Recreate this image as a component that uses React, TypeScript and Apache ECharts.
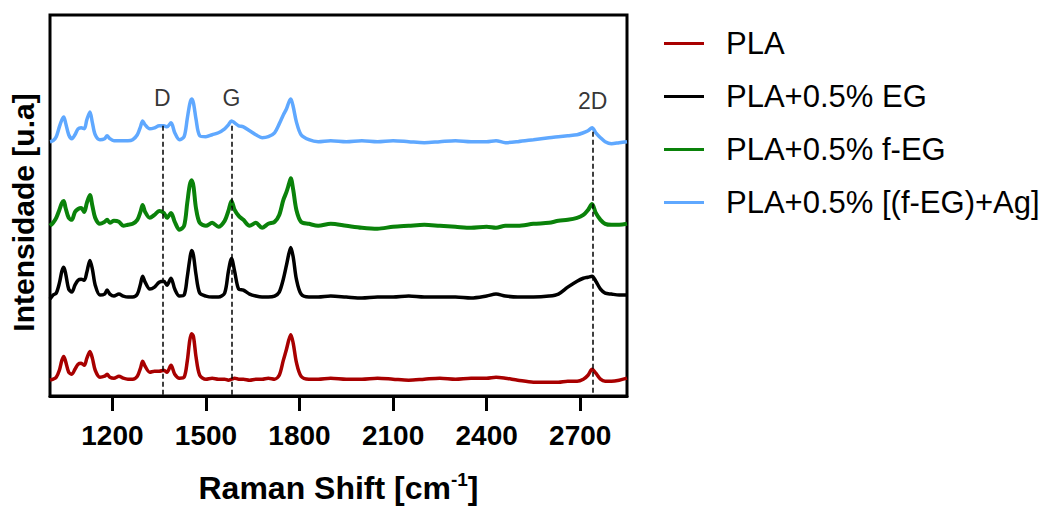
import React, { useEffect, useRef } from "react";
import * as echarts from "echarts";

const ramanShift = [
  1000, 1010, 1020, 1030, 1038, 1044, 1050, 1060, 1070, 1080,
  1090, 1100, 1110, 1118, 1128, 1136, 1145, 1160, 1175, 1183,
  1192, 1205, 1221, 1235, 1250, 1265, 1280, 1290, 1297, 1305,
  1320, 1335, 1350, 1365, 1375, 1388, 1400, 1415, 1430, 1440,
  1448, 1454, 1460, 1468, 1480, 1500, 1520, 1540, 1560, 1572,
  1582, 1592, 1605, 1620, 1640, 1660, 1680, 1700, 1720, 1735,
  1748, 1758, 1766, 1772, 1780, 1790, 1805, 1830, 1860, 1900,
  1950, 2000, 2050, 2100, 2150, 2200, 2250, 2300, 2350, 2400,
  2430, 2460, 2500, 2550, 2600, 2630, 2660, 2690, 2710, 2725,
  2738, 2750, 2765, 2780, 2800, 2825, 2850,
];

const pla = [
  16, 17, 19, 26, 36, 40, 35, 24, 22, 27,
  32, 33, 31, 38, 45, 38, 26, 19, 20, 22,
  19, 18, 20, 18, 17, 17, 20, 28, 35, 30,
  24, 25, 25, 26, 24, 31, 22, 18, 19, 35,
  56, 63, 60, 40, 21, 17, 18, 17, 17, 16,
  17, 18, 17, 17, 16, 17, 17, 18, 17, 21,
  36, 47, 57, 62, 53, 34, 20, 17, 17, 18,
  17, 17, 18, 17, 16, 17, 18, 17, 18, 18,
  19, 18, 16, 14, 14, 14, 15, 15, 17, 21,
  27, 23, 17, 15, 15, 16, 18,
];

const plaEG = [
  98, 102, 104, 114, 126, 130, 124, 108, 105, 112,
  117, 118, 117, 125, 137, 128, 112, 102, 103, 107,
  103, 101, 103, 101, 100, 100, 103, 113, 121, 115,
  108, 110, 115, 116, 112, 119, 108, 101, 102, 120,
  138, 147, 142, 123, 104, 101, 100, 100, 104, 126,
  139, 126, 108, 107, 103, 101, 100, 100, 101, 105,
  118, 132, 144, 150, 140, 118, 103, 100, 100, 101,
  100, 99, 100, 100, 101, 100, 100, 100, 99, 101,
  103, 101, 100, 100, 101, 103, 110, 116, 119, 120,
  121, 116, 108, 104, 103, 102, 102,
];

const plaFEG = [
  172, 175, 180, 188, 195, 197, 190, 180, 178, 186,
  189, 190, 186, 195, 203, 192, 180, 174, 176, 178,
  175, 177, 176, 172, 173, 174, 178, 186, 193, 186,
  180, 183, 187, 185, 180, 185, 176, 168, 172, 195,
  213, 218, 212, 190, 175, 172, 175, 171, 177, 187,
  197, 188, 182, 178, 172, 175, 170, 174, 176, 183,
  198, 206, 214, 220, 208, 188, 176, 174, 172, 174,
  172, 170, 169, 171, 172, 173, 172, 171, 170, 171,
  170, 172, 172, 174, 175, 177, 178, 180, 183, 188,
  194, 185, 178, 174, 173, 173, 174,
];

const plaFEGAg = [
  257, 258, 262, 272, 279, 282, 276, 264, 260, 264,
  270, 271, 270, 279, 287, 276, 264, 259, 260, 263,
  260, 258, 258, 258, 258, 259, 264, 272, 278, 274,
  270, 271, 273, 273, 272, 276, 266, 259, 262, 280,
  295, 300, 296, 280, 263, 262, 264, 266, 270, 274,
  278, 276, 273, 272, 268, 264, 261, 262, 266, 275,
  284, 290, 297, 300, 292, 277, 264, 259, 257, 258,
  257, 258, 257, 258, 257, 256, 257, 258, 257, 257,
  258, 256, 257, 259, 261, 262, 263, 264, 266, 268,
  271, 266, 261, 257, 255, 256, 257,
];

const seriesNames = ["PLA", "PLA+0.5% EG", "PLA+0.5% f-EG", "PLA+0.5% [(f-EG)+Ag]"];
const seriesColors = ["#a80000", "#000000", "#0a820a", "#5fa8ff"];
const xTicks = [1200, 1500, 1800, 2100, 2400, 2700];
const peakLabels = ["D", "G", "2D"];
const peakPositions = [1360, 1582, 2740];
const peakLineTop = [273, 273, 267];

export default function App() {
  const ref = useRef<HTMLDivElement>(null);

  useEffect(() => {
    const chart = echarts.init(ref.current!, null, { renderer: "svg" });
    const font = "'Liberation Sans', Arial, Helvetica, sans-serif";
    const allY = [pla, plaEG, plaFEG, plaFEGAg];

    const lineSeries = allY.map((ys, i) => ({
      name: seriesNames[i],
      type: "line",
      data: ramanShift.map((x, j) => [x, ys[j]]),
      symbol: "none",
      showSymbol: false,
      smooth: 0.3,
      silent: true,
      z: 3,
      lineStyle: { color: seriesColors[i], width: i === 2 ? 4 : 3.5 },
      itemStyle: { color: seriesColors[i] },
    }));

    const option: any = {
      animation: false,
      backgroundColor: "#ffffff",
      grid: {
        left: 49,
        right: 429,
        top: 15,
        bottom: 109,
        show: true,
        borderColor: "#000",
        borderWidth: 3,
        backgroundColor: "transparent",
        containLabel: false,
      },
      legend: {
        data: seriesNames,
        orient: "vertical",
        left: 659,
        top: 23,
        icon: "rect",
        itemWidth: 40,
        itemHeight: 3,
        itemGap: 22,
        selectedMode: false,
        textStyle: {
          fontFamily: font,
          fontSize: 31,
          color: "#000",
          lineHeight: 30,
          padding: [0, 0, 0, 17],
        },
      },
      xAxis: {
        type: "value",
        min: 1000,
        max: 2850,
        name: "{a|Raman Shift [cm}{b|-1}{a|]}",
        nameLocation: "middle",
        nameGap: 74,
        nameTextStyle: {
          rich: {
            a: { fontFamily: font, fontSize: 32, fontWeight: "bold", color: "#000", lineHeight: 36 },
            b: { fontFamily: font, fontSize: 19, fontWeight: "bold", color: "#000", lineHeight: 19, verticalAlign: "top" },
          },
        },
        axisLine: { show: true, lineStyle: { color: "#000", width: 3 } },
        axisTick: { show: true, customValues: xTicks, length: 15, lineStyle: { color: "#000", width: 3 } },
        axisLabel: {
          customValues: xTicks,
          formatter: (v: number) => String(v),
          fontFamily: font,
          fontSize: 28,
          fontWeight: "bold",
          color: "#000",
          margin: 25,
        },
        splitLine: { show: false },
      },
      yAxis: {
        type: "value",
        min: 0,
        max: 385,
        name: "Intensidade [u.a]",
        nameLocation: "middle",
        nameGap: 12,
        nameTextStyle: { fontFamily: font, fontSize: 30, fontWeight: "bold", color: "#000", padding: [0, 0, 0, -14] },
        axisLine: { show: false },
        axisTick: { show: false },
        axisLabel: { show: false },
        splitLine: { show: false },
      },
      series: [
        ...lineSeries,
        {
          name: "peaks",
          type: "scatter",
          data: peakPositions.map((x, i) => [x, i === 2 ? 298 : 301]),
          symbolSize: 0,
          silent: true,
          z: 5,
          label: {
            show: true,
            position: "inside",
            formatter: (p: any) => peakLabels[p.dataIndex],
            fontFamily: font,
            fontSize: 23,
            color: "#000",
          },
          markLine: {
            silent: true,
            symbol: ["none", "none"],
            z: 6,
            label: { show: false },
            lineStyle: { color: "#000", width: 1.5, type: [5, 3] },
            data: peakPositions.map((x, i) => [
              { coord: [x, peakLineTop[i]] },
              { coord: [x, 0] },
            ]),
          },
        },
      ],
    };

    chart.setOption(option);
    return () => chart.dispose();
  }, []);

  return (
    <div
      ref={ref}
      style={{ position: "fixed", left: 0, top: 0, width: 1056, height: 509 }}
    />
  );
}
